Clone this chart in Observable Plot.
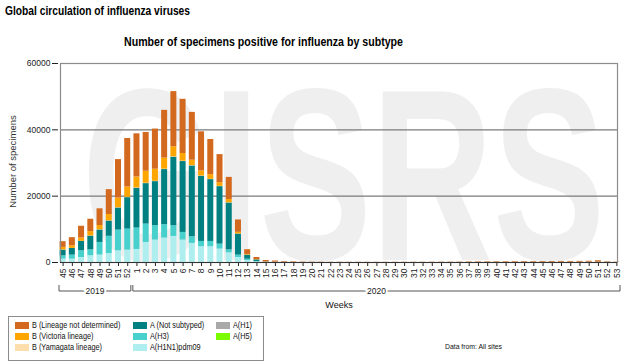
<!DOCTYPE html>
<html>
<head>
<meta charset="utf-8">
<script src="https://cdn.jsdelivr.net/npm/d3@7"></script>
<script src="https://cdn.jsdelivr.net/npm/@observablehq/plot@0.6"></script>
<style>
  html, body { margin: 0; padding: 0; background: #fff; }
  #wrap { position: relative; width: 624px; height: 364px; overflow: hidden;
          font-family: "Liberation Sans", Arial, sans-serif; color: #000; }
  .t { position: absolute; white-space: nowrap; transform-origin: 0 0; }
  #title { left: 5px; top: 4px; font-size: 13px; line-height: 13px; font-weight: bold; }
  #subtitle { left: 124px; top: 35px; font-size: 13px; line-height: 13px; font-weight: bold; }
  #chart { position: absolute; left: 0; top: 50px; }
  #legendBox { position: absolute; left: 8px; top: 316px; width: 256px; height: 45px;
               box-sizing: border-box; border: 1.5px solid #8c8c8c; }
  .sw { position: absolute; width: 14px; height: 7px; }
  .lt { font-size: 9px; line-height: 9px; color: #111; }
  #source { left: 445px; top: 343px; font-size: 8px; line-height: 8px; color: #111; }
</style>
</head>
<body>
<div id="wrap">
  <div id="title" class="t">Global circulation of influenza viruses</div>
  <div id="subtitle" class="t">Number of specimens positive for influenza by subtype</div>
  <div id="chart"></div>
  <div id="legendBox"></div>
  <div id="source" class="t">Data from: All sites</div>
</div>
<script>
// ---------- DATA ----------
const weeks2019 = [45, 46, 47, 48, 49, 50, 51, 52];
const weeks2020 = [1, 2, 3, 4, 5, 6, 7, 8, 9, 10, 11, 12, 13, 14, 15, 16, 17, 18, 19, 20,
  21, 22, 23, 24, 25, 26, 27, 28, 29, 30, 31, 32, 33, 34, 35, 36, 37, 38, 39, 40,
  41, 42, 43, 44, 45, 46, 47, 48, 49, 50, 51, 52, 53];

const yTicks = [0, 20000, 40000, 60000];

// values per week: 8 weeks of 2019 followed by 53 weeks of 2020
const aH1N1pdm09 = [1000, 1000, 1510, 2020, 2240, 2700, 3530, 3730,
  3930, 6050, 6750, 7360, 7860, 6750, 5750, 4740, 4740, 4030,
  2920, 1510, 600, 150, 20, 10, 5, 5, 5, 4,
  4, 3, 3, 3, 2, 2, 2, 2, 2, 2,
  2, 2, 2, 3, 3, 3, 4, 4, 5, 5,
  5, 6, 6, 6, 7, 7, 8, 8, 8, 9,
  9, 6, 3];
const aH3 = [1000, 1220, 2020, 1810, 3810, 5200, 6250, 6350,
  6450, 5540, 4340, 4030, 3230, 2320, 2010, 1610, 1610, 1510,
  910, 710, 400, 150, 30, 20, 10, 6, 5, 5,
  4, 4, 3, 3, 3, 3, 3, 3, 3, 3,
  3, 3, 4, 4, 4, 5, 5, 6, 6, 7,
  7, 8, 8, 9, 9, 10, 10, 11, 12, 12,
  14, 10, 5];
const aNotSubtyped = [1730, 2010, 2820, 4130, 3750, 4600, 6650, 9480,
  12000, 12200, 13300, 16630, 20660, 21370, 21370, 19660, 18650, 17340,
  14110, 6350, 1220, 500, 80, 40, 20, 15, 12, 10,
  10, 9, 8, 8, 8, 7, 7, 7, 8, 8,
  8, 9, 9, 10, 10, 12, 14, 15, 16, 18,
  20, 22, 24, 25, 28, 30, 32, 35, 38, 40,
  45, 30, 15];
const aH1 = [0, 0, 0, 0, 0, 0, 0, 0,
  0, 0, 0, 0, 0, 0, 0, 0, 0, 0,
  0, 0, 0, 0, 0, 0, 0, 0, 0, 0,
  0, 0, 0, 0, 0, 0, 0, 0, 0, 0,
  0, 0, 0, 0, 0, 0, 0, 0, 0, 0,
  0, 0, 0, 0, 0, 0, 0, 0, 0, 0,
  0, 0, 0];
const aH5 = [0, 0, 0, 0, 0, 0, 0, 0,
  0, 0, 0, 0, 0, 0, 0, 0, 0, 0,
  0, 0, 0, 0, 0, 0, 0, 0, 0, 0,
  0, 0, 0, 0, 0, 0, 0, 0, 0, 0,
  0, 0, 0, 0, 0, 0, 0, 0, 0, 0,
  0, 0, 0, 0, 0, 0, 0, 0, 0, 0,
  0, 0, 0];
const bYamagata = [20, 25, 30, 40, 50, 60, 80, 90,
  100, 110, 110, 120, 120, 110, 100, 90, 80, 70,
  60, 30, 10, 5, 2, 1, 0, 0, 0, 0,
  0, 0, 0, 0, 0, 0, 0, 0, 0, 0,
  0, 0, 0, 0, 0, 0, 0, 0, 0, 0,
  0, 0, 0, 0, 0, 0, 0, 0, 0, 0,
  0, 0, 0];
const bVictoria = [810, 810, 1010, 1310, 1300, 1900, 2920, 3120,
  3320, 3630, 3630, 3330, 3030, 2320, 1610, 1510, 1410, 1110,
  1010, 500, 200, 100, 30, 20, 15, 10, 8, 6,
  5, 5, 5, 4, 4, 4, 4, 4, 5, 5,
  5, 6, 6, 7, 8, 9, 10, 12, 14, 15,
  16, 18, 20, 22, 24, 26, 28, 30, 32, 35,
  40, 30, 12];
const bNotDetermined = [1710, 2420, 3540, 3730, 5040, 7500, 11600, 14620,
  13000, 11680, 12100, 14410, 16620, 16330, 14420, 11790, 10590, 8470,
  6650, 3730, 1420, 600, 440, 360, 200, 150, 100, 80,
  70, 60, 60, 55, 50, 50, 50, 50, 55, 60,
  60, 65, 70, 80, 90, 100, 140, 160, 170, 180,
  190, 200, 200, 210, 220, 230, 240, 250, 260, 280,
  420, 150, 70];

// series names (stack order bottom -> top) and colours
const seriesNames = ["A(H1N1)pdm09", "A(H3)", "A (Not subtyped)", "A(H1)", "A(H5)",
  "B (Yamagata lineage)", "B (Victoria lineage)", "B (Lineage not determined)"];
const seriesValues = [aH1N1pdm09, aH3, aNotSubtyped, aH1, aH5, bYamagata, bVictoria, bNotDetermined];
const seriesColors = ["#AFEEEE", "#48D1CC", "#008080", "#A9A9A9", "#7CFC00",
  "#FFDEAD", "#FFA500", "#D2691E"];

// legend layout (columns as displayed)
const legendColumns = [
  ["B (Lineage not determined)", "B (Victoria lineage)", "B (Yamagata lineage)"],
  ["A (Not subtyped)", "A(H3)", "A(H1N1)pdm09"],
  ["A(H1)", "A(H5)"]
];
const years = [{label: "2019", weeks: weeks2019}, {label: "2020", weeks: weeks2020}];

// ---------- BUILD ----------
const keys = years.flatMap(y => y.weeks.map(w => y.label + "-" + w));
const weekLabel = new Map(years.flatMap(y => y.weeks.map(w => [y.label + "-" + w, String(w)])));
const data = seriesNames.flatMap((name, s) =>
  seriesValues[s].map((v, i) => ({key: keys[i], series: name, value: v})));

const plot = Plot.plot({
  width: 624,
  height: 260,
  marginLeft: 58,
  marginRight: 3,
  marginTop: 13,
  marginBottom: 48,
  style: {fontFamily: "'Liberation Sans', Arial, sans-serif", fontSize: "8.5px", color: "#222", background: "transparent", overflow: "visible"},
  x: {domain: keys, paddingInner: 0.35, paddingOuter: 0.175, round: false,
      tickFormat: k => weekLabel.get(k), tickRotate: -90, tickSize: 4, tickPadding: 2, label: null},
  y: {domain: [0, 60000], ticks: yTicks, tickFormat: d => String(d), tickSize: 6, tickPadding: 2, label: null},
  color: {domain: seriesNames, range: seriesColors},
  marks: [
    Plot.ruleY(yTicks.slice(1, -1), {stroke: "#7a7a7a", strokeWidth: 1.3, insetLeft: 2, insetRight: 4}),
    Plot.barY(data, {x: "key", y: "value", fill: "series", order: seriesNames}),
    Plot.frame({stroke: "#8c8c8c", strokeWidth: 1.2, insetLeft: 2, insetRight: 4}),
    Plot.ruleY([0], {stroke: "#333", strokeWidth: 1.2, insetLeft: 2, insetRight: 4})
  ]
});
document.getElementById("chart").append(plot);

const svg = d3.select(plot);
const xs = plot.scale("x");
const gap = xs.step - xs.bandwidth;

// watermark (behind everything)
const wm = svg.insert("text", ":first-child")
  .attr("x", 0).attr("y", 0)
  .attr("text-anchor", "start")
  .attr("font-family", "'Liberation Sans', Arial, sans-serif")
  .attr("font-weight", "bold").attr("font-size", 245)
  .attr("fill", "#efefef")
  .text("GISRS");
const wmLen = wm.node().getComputedTextLength();
wm.attr("transform", `translate(82,210) scale(${523 / wmLen},1)`);

// year brackets, from the x scale
years.forEach(y => {
  const first = y.label + "-" + y.weeks[0];
  const last = y.label + "-" + y.weeks[y.weeks.length - 1];
  const x0 = xs.apply(first) - gap / 2 + 1;
  const x1 = Math.min(xs.apply(last) + xs.bandwidth + gap / 2 - 1, 622);
  svg.append("path")
    .attr("d", `M${x0},235V241H${x1}V235`)
    .attr("fill", "none").attr("stroke", "#555").attr("stroke-width", 1);
  svg.append("text")
    .attr("x", (x0 + x1) / 2).attr("y", 244)
    .attr("text-anchor", "middle")
    .attr("font-size", 8.5)
    .attr("fill", "#222")
    .attr("stroke", "#fff").attr("stroke-width", 4).attr("paint-order", "stroke")
    .text(y.label);
});

// axis titles
svg.append("text")
  .attr("x", 339).attr("y", 258)
  .attr("text-anchor", "middle").attr("font-size", 9).attr("fill", "#111")
  .text("Weeks");
svg.append("text")
  .attr("transform", "translate(15.5,111.5) rotate(-90)")
  .attr("text-anchor", "middle").attr("font-size", 9.5).attr("fill", "#333")
  .text("Number of specimens");

// legend
const wrap = document.getElementById("wrap");
const colX = [15, 133, 216];
const rowY = [322, 333, 344];
legendColumns.forEach((col, c) => col.forEach((name, r) => {
  const sw = document.createElement("div");
  sw.className = "sw";
  sw.style.left = colX[c] + "px";
  sw.style.top = rowY[r] + "px";
  sw.style.background = seriesColors[seriesNames.indexOf(name)];
  wrap.append(sw);
  const lt = document.createElement("div");
  lt.className = "t lt";
  lt.style.left = (colX[c] + 17) + "px";
  lt.style.top = (rowY[r] - 0.6) + "px";
  lt.style.transform = "scaleX(0.81)";
  lt.textContent = name;
  wrap.append(lt);
}));

// fit the condensed-looking header texts to their widths
function fit(id, w) {
  const el = document.getElementById(id);
  const r = el.getBoundingClientRect().width;
  el.style.transform = `scaleX(${w / r})`;
}
fit("title", 185);
fit("subtitle", 279);
fit("source", 57);
</script>
</body>
</html>
